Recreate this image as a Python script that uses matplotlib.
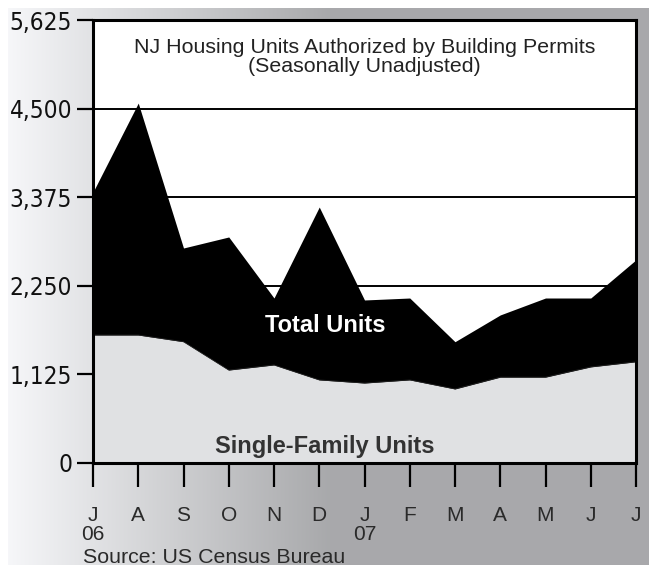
import numpy as np
import matplotlib
matplotlib.use("Agg")
import matplotlib.pyplot as plt
from matplotlib.font_manager import FontProperties

# NJ housing units authorized, Jul 2006 - Jul 2007
months = ["J", "A", "S", "O", "N", "D", "J", "F", "M", "A", "M", "J", "J"]
years = {0: "06", 6: "07"}
total_units = [3440, 4570, 2730, 2870, 2095, 3250, 2070, 2095, 1540, 1880, 2095, 2095, 2580]
single_family = [1625, 1625, 1540, 1180, 1245, 1055, 1015, 1055, 940, 1090, 1090, 1220, 1285]
yticks = [0, 1125, 2250, 3375, 4500, 5625]

W, H = 649, 573
fig = plt.figure(figsize=(W / 100, H / 100), dpi=100)
fig.patch.set_facecolor("white")

# grey gradient panel behind the chart
bg = fig.add_axes([8 / W, 8 / H, (W - 8) / W, (H - 16) / H])
bg.set_axis_off()
xs = np.arange(W - 8)
shade = 246 - (246 - 168) * np.clip(xs / 322.0, 0, 1)
grad = np.tile(shade, (2, 1)) / 255.0
rgb = np.dstack([grad, grad + 0.003, grad + 0.012])
bg.imshow(np.clip(rgb, 0, 1), aspect="auto", extent=[0, 1, 0, 1])
bg.set_zorder(0)

left, right, top, bottom = 93, 636, 20, 463
ax = fig.add_axes([left / W, (H - bottom) / H, (right - left) / W, (bottom - top) / H])
ax.set_zorder(1)
ax.set_facecolor("white")

x = np.arange(len(months))
ax.fill_between(x, 0, total_units, color="black", lw=0, zorder=2)
ax.fill_between(x, 0, single_family, color="#e0e1e3", lw=0, zorder=3)
ax.plot(x, single_family, color="#222222", lw=0.6, zorder=3)

for yv in yticks[1:-1]:
    ax.axhline(yv, color="black", lw=1.4, zorder=1)

ax.set_xlim(0, len(months) - 1)
ax.set_ylim(0, 5625)

cond = FontProperties(family="DejaVu Sans", stretch="condensed", style="normal",
                      weight="normal", size=17.5)
ax.set_yticks(yticks)
ax.set_yticklabels([f"{v:,}" for v in yticks], fontproperties=cond, color="#111111")
ax.tick_params(axis="y", direction="out", length=11.5, width=1.6, pad=3.5)

labels = [m + ("\n" + years[i] if i in years else "") for i, m in enumerate(months)]
ax.set_xticks(x)
ax.set_xticklabels(labels, family="Liberation Sans", fontsize=15, color="#2a2a2a",
                   linespacing=1.0, va="top")
ax.tick_params(axis="x", direction="out", length=17, width=1.6, pad=14)

for s in ax.spines.values():
    s.set_linewidth(2.2)
    s.set_color("black")
    s.set_zorder(5)

ax.text(0.5, 1 - (53 - top) / (bottom - top), "NJ Housing Units Authorized by Building Permits",
        transform=ax.transAxes, ha="center", va="baseline", fontsize=15.4,
        family="Liberation Sans", color="#222222", zorder=6)
ax.text(0.5, 1 - (72 - top) / (bottom - top), "(Seasonally Unadjusted)",
        transform=ax.transAxes, ha="center", va="baseline", fontsize=15.4,
        family="Liberation Sans", color="#222222", zorder=6)

ax.text((325 - left) / (right - left), 1 - (332 - top) / (bottom - top), "Total Units",
        transform=ax.transAxes, ha="center", va="baseline", fontsize=17,
        family="Liberation Sans", weight="bold", color="white", zorder=6)
ax.text((325 - left) / (right - left), 1 - (453 - top) / (bottom - top), "Single-Family Units",
        transform=ax.transAxes, ha="center", va="baseline", fontsize=17,
        family="Liberation Sans", weight="bold", color="#333333", zorder=6)

fig.text(83 / W, 1 - 563 / H, "Source: US Census Bureau", ha="left", va="baseline",
         fontsize=15.4, family="Liberation Sans", color="#2a2a2a")

fig.savefig("out.png", dpi=100, facecolor=fig.get_facecolor())
